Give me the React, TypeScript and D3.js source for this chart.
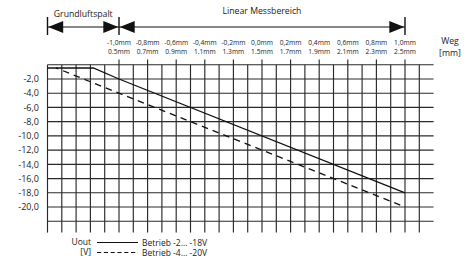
import React, { useEffect, useRef } from 'react';
import * as d3 from 'd3';

// Weg in mm (absolute position), Uout in V
const solidSeries: [number, number][] = [[0, -0.45], [0.32, -0.45], [0.5, -2], [2.5, -18]];
const dashedSeries: [number, number][] = [[0.06, -0.45], [0.5, -4], [2.5, -20]];

const yTicks = [-2, -4, -6, -8, -10, -12, -14, -16, -18, -20];
const yTickLabels = ['-2,0', '-4,0', '-6,0', '-8,0', '-10,0', '-12,0', '-14,0', '-16,0', '-18,0', '-20,0'];
const yGrid = [0, -2, -4, -6, -8, -10, -12, -14, -16, -18, -20, -22];

const xGrid = d3.range(0, 27).map(i => i / 10);
const xTicks = [0.5, 0.7, 0.9, 1.1, 1.3, 1.5, 1.7, 1.9, 2.1, 2.3, 2.5];
const xLabelsRel = ['-1,0mm', '-0,8mm', '-0,6mm', '-0,4mm', '-0,2mm', '0,0mm', '0,2mm', '0,4mm', '0,6mm', '0,8mm', '1,0mm'];
const xLabelsAbs = ['0.5mm', '0.7mm', '0.9mm', '1.1mm', '1.3mm', '1.5mm', '1.7mm', '1.9mm', '2.1mm', '2.3mm', '2.5mm'];

const legendItems = [
  { label: 'Betrieb -2... -18V', dash: null },
  { label: 'Betrieb -4... -20V', dash: '4.2,2.6' },
];

const App = () => {
  const svgRef = useRef<SVGSVGElement>(null);

  useEffect(() => {
    const width = 470;
    const height = 261;
    const font = '"Open Sans", sans-serif';

    const svg = d3.select(svgRef.current);
    svg.selectAll('*').remove();
    svg.attr('width', width).attr('height', height);

    svg.append('rect').attr('width', width).attr('height', height).attr('fill', '#fff');

    const x = d3.scaleLinear().domain([0.5, 2.5]).range([119, 405]);
    const y = d3.scaleLinear().domain([-2, -20]).range([79, 207]);

    const grid = svg.append('g').attr('stroke', '#2a2a2a').attr('stroke-width', 1.15);

    // horizontal grid
    grid.selectAll('line.h')
      .data(yGrid)
      .enter()
      .append('line')
      .attr('x1', x(0))
      .attr('x2', x(2.7))
      .attr('y1', d => y(d))
      .attr('y2', d => y(d));

    // vertical grid, longer at labelled positions
    grid.selectAll('line.v')
      .data(xGrid)
      .enter()
      .append('line')
      .attr('x1', d => x(d))
      .attr('x2', d => x(d))
      .attr('y1', d => (xTicks.some(t => Math.abs(t - d) < 1e-6) ? y(0.75) : y(0)))
      .attr('y2', y(-23.6));

    // y labels
    svg.append('g')
      .selectAll('text')
      .data(yTicks)
      .enter()
      .append('text')
      .attr('x', 39)
      .attr('y', d => y(d))
      .attr('dy', '0.36em')
      .attr('text-anchor', 'end')
      .attr('font-family', font)
      .attr('font-size', 9)
      .attr('fill', '#222')
      .text((d, i) => yTickLabels[i]);

    // top x labels
    const topLabels = svg.append('g')
      .attr('font-family', font)
      .attr('font-size', 6.7)
      .attr('fill', '#222')
      .attr('text-anchor', 'middle');
    topLabels.selectAll('text.rel')
      .data(xTicks)
      .enter()
      .append('text')
      .attr('x', d => x(d))
      .attr('y', 45)
      .text((d, i) => xLabelsRel[i]);
    topLabels.selectAll('text.abs')
      .data(xTicks)
      .enter()
      .append('text')
      .attr('x', d => x(d))
      .attr('y', 54)
      .text((d, i) => xLabelsAbs[i]);

    svg.append('text')
      .attr('x', 450).attr('y', 44)
      .attr('text-anchor', 'middle')
      .attr('font-family', font).attr('font-size', 8.7).attr('fill', '#222')
      .text('Weg');
    svg.append('text')
      .attr('x', 450).attr('y', 55.5)
      .attr('text-anchor', 'middle')
      .attr('font-family', font).attr('font-size', 8.7).attr('fill', '#222')
      .text('[mm]');

    // range arrows
    const arrowY = 27;
    const arrows = svg.append('g').attr('stroke', '#111').attr('fill', '#111');
    arrows.append('line')
      .attr('x1', x(0)).attr('x2', x(2.5))
      .attr('y1', arrowY).attr('y2', arrowY)
      .attr('stroke-width', 1);
    [x(0), x(0.5), x(2.5)].forEach(px => {
      arrows.append('line')
        .attr('x1', px).attr('x2', px)
        .attr('y1', 17).attr('y2', 35)
        .attr('stroke-width', 1.4);
    });
    const head = (tip: number, dir: number) => {
      const len = 15;
      const half = 6;
      arrows.append('path')
        .attr('stroke', 'none')
        .attr('d', `M${tip},${arrowY} L${tip + dir * len},${arrowY - half} L${tip + dir * len},${arrowY + half} Z`);
    };
    head(x(0) + 0.7, 1);
    head(x(0.5) - 0.7, -1);
    head(x(0.5) + 0.7, 1);
    head(x(2.5) - 0.7, -1);

    svg.append('text')
      .attr('x', (x(0) + x(0.5)) / 2).attr('y', 16.5)
      .attr('text-anchor', 'middle')
      .attr('font-family', font).attr('font-size', 8.7).attr('fill', '#222')
      .text('Grundluftspalt');
    svg.append('text')
      .attr('x', (x(0.5) + x(2.5)) / 2).attr('y', 14)
      .attr('text-anchor', 'middle')
      .attr('font-family', font).attr('font-size', 8.7).attr('fill', '#222')
      .text('Linear Messbereich');

    // curves
    const line = d3.line<[number, number]>()
      .x(d => x(d[0]))
      .y(d => y(d[1]));

    svg.append('path')
      .datum(solidSeries)
      .attr('d', line)
      .attr('fill', 'none')
      .attr('stroke', '#111')
      .attr('stroke-width', 1.3);

    svg.append('path')
      .datum(dashedSeries)
      .attr('d', line)
      .attr('fill', 'none')
      .attr('stroke', '#111')
      .attr('stroke-width', 1.3)
      .attr('stroke-dasharray', '6.5,5')
      .attr('stroke-dashoffset', 4);

    // legend
    const legend = svg.append('g').attr('font-family', font).attr('font-size', 8.5).attr('fill', '#222');
    legend.append('text').attr('x', 91).attr('y', 244.5).attr('text-anchor', 'end').text('Uout');
    legend.append('text').attr('x', 91).attr('y', 254.5).attr('text-anchor', 'end').text('[V]');
    legendItems.forEach((item, i) => {
      const ly = 242.5 + i * 10;
      legend.append('line')
        .attr('x1', 97).attr('x2', 138)
        .attr('y1', ly).attr('y2', ly)
        .attr('stroke', '#111')
        .attr('stroke-width', 1.2)
        .attr('stroke-dasharray', item.dash);
      legend.append('text')
        .attr('x', 142).attr('y', ly + 3)
        .text(item.label);
    });
  }, []);

  return (
    <div style={{ position: 'absolute', left: 0, top: 0 }}>
      <svg ref={svgRef} style={{ display: 'block' }}></svg>
    </div>
  );
};

export default App;
